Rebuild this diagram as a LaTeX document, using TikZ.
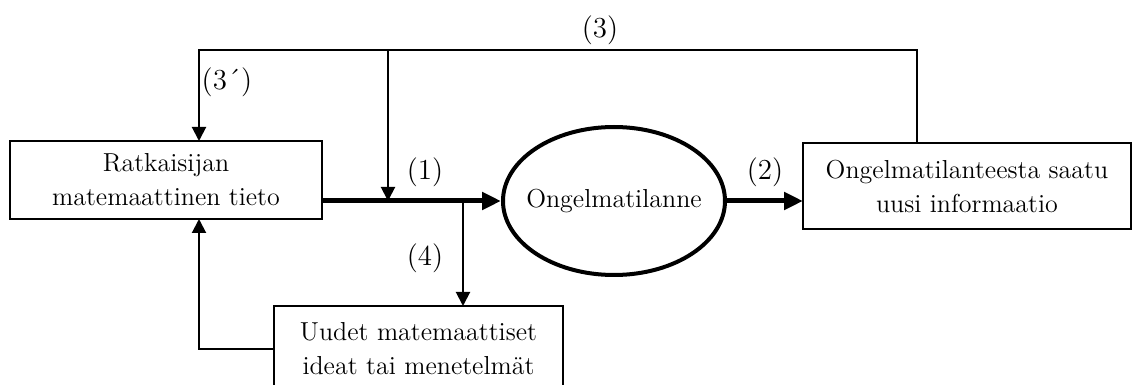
\documentclass[tikz,border=0pt]{standalone}
\usetikzlibrary{arrows.meta,shapes.geometric}

\begin{document}
\begin{tikzpicture}[
  x=0.5pt, y=-0.5pt,
  box/.style={draw, line width=1pt, align=center, font=\fontsize{13}{17}\selectfont,
              inner sep=0pt, outer sep=0pt, fill=white},
  situ/.style={draw, ellipse, line width=2pt, inner xsep=-8pt, inner ysep=0pt,
               font=\fontsize{13}{17}\selectfont},
  arr/.style={-{Triangle[length=7pt,width=7pt]}, line width=1pt},
  bigarr/.style={-{Triangle[length=9.5pt,width=8.5pt]}, line width=2.5pt},
  lab/.style={font=\fontsize{14.5}{17}\selectfont, inner sep=0pt}
]
\useasboundingbox (0,0) rectangle (1132,385);
\node[box, minimum width=156pt, minimum height=39pt] (know) at (166,180) {Ratkaisijan\\matemaattinen tieto};
\node[situ, minimum width=111pt, minimum height=74pt] (sit) at (614,201) {Ongelmatilanne};
\node[box, minimum width=164pt, minimum height=43pt] (info) at (967,186) {Ongelmatilanteesta saatu\\uusi informaatio};
\node[box, minimum width=144.5pt, minimum height=43pt] (ideas) at (418.5,349) {Uudet matemaattiset\\ideat tai menetelmät};
\coordinate (rtop) at (917,50);
\coordinate (ltop) at (199,50);
\coordinate (mtop) at (388,50);
\coordinate (fork) at (463,201);
\draw[bigarr] (know.east |- sit.west) -- (sit.west);
\draw[bigarr] (sit.east) -- (info.west |- sit.east);
\draw[arr] (info.north -| rtop) -- (rtop) -- (ltop) -- (ltop |- know.north);
\draw[arr] (mtop) -- (mtop |- sit.west);
\draw[arr] (fork) -- (fork |- ideas.north);
\draw[arr] (ideas.west) -| (ltop |- know.south);
\node[lab] (l1) at (425,172) {(1)};
\node[lab] (l2) at (765,172) {(2)};
\node[lab] (l3) at (600,30) {(3)};
\node[lab] (l3b) at (227,82) {(3´)};
\node[lab] (l4) at (425,258) {(4)};
\end{tikzpicture}
\end{document}
